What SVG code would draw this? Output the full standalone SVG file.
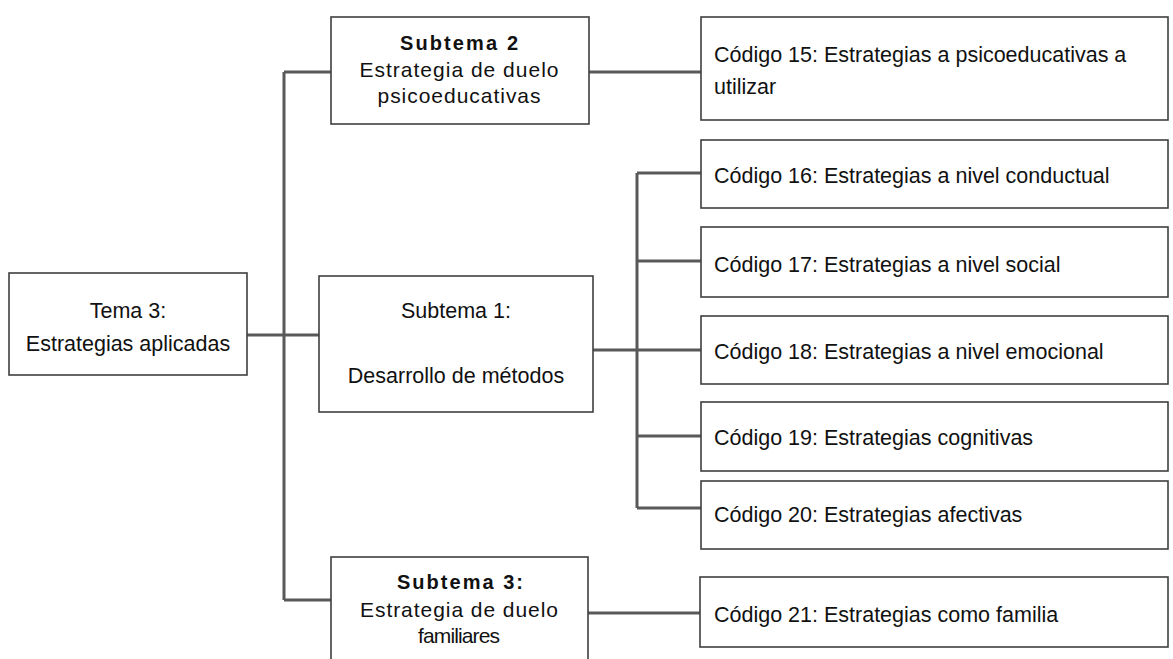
<svg xmlns="http://www.w3.org/2000/svg" width="1173" height="659" viewBox="0 0 1173 659">
<style>
.box{fill:#fff;stroke:#3f3f3f;stroke-width:1.6}
.con{fill:none;stroke:#595959;stroke-width:3}
.t{font-family:"Liberation Sans",Arial,sans-serif;font-size:21.5px;fill:#111}
.s{font-family:"Liberation Sans",Arial,sans-serif;font-size:21px;fill:#111}
.b{font-weight:bold;font-size:20px}
.m{text-anchor:middle}
</style>
<rect width="1173" height="659" fill="#fff"/>
<g id="connectors">
<path class="con" d="M284 72V600M284 72H331M284 600H331M247 335H319M589 72H701M593 350H701M637 173V508M637 173H701M637 261H701M637 436H701M637 508H701M588 613H700"/>
</g>
<g id="tema3">
<rect class="box" x="9" y="273" width="238" height="102"/>
<text class="t m" x="128" y="318">Tema 3:</text>
<text class="t m" x="128" y="351">Estrategias aplicadas</text>
</g>
<g id="subtema2">
<rect class="box" x="331" y="17" width="258" height="107"/>
<text class="s b m" x="459" y="50" textLength="118">Subtema 2</text>
<text class="s m" x="459" y="77" textLength="199">Estrategia de duelo</text>
<text class="s m" x="459" y="103" textLength="163">psicoeducativas</text>
</g>
<g id="subtema1">
<rect class="box" x="319" y="276" width="274" height="136"/>
<text class="t m" x="456" y="318">Subtema 1:</text>
<text class="t m" x="456" y="383">Desarrollo de métodos</text>
</g>
<g id="subtema3">
<rect class="box" x="331" y="557" width="257" height="110"/>
<text class="s b m" x="460" y="589" textLength="126">Subtema 3:</text>
<text class="s m" x="459" y="617" textLength="198">Estrategia de duelo</text>
<text class="s m" x="459" y="643" textLength="82">familiares</text>
</g>
<g id="codigo15">
<rect class="box" x="701" y="17" width="467" height="103"/>
<text class="t" x="714" y="62">Código 15: Estrategias a psicoeducativas a</text>
<text class="t" x="714" y="94">utilizar</text>
</g>
<g id="codigo16">
<rect class="box" x="701" y="140" width="467" height="68"/>
<text class="t" x="714" y="183">Código 16: Estrategias a nivel conductual</text>
</g>
<g id="codigo17">
<rect class="box" x="701" y="227" width="467" height="70"/>
<text class="t" x="714" y="272">Código 17: Estrategias a nivel social</text>
</g>
<g id="codigo18">
<rect class="box" x="701" y="316" width="467" height="68"/>
<text class="t" x="714" y="359">Código 18: Estrategias a nivel emocional</text>
</g>
<g id="codigo19">
<rect class="box" x="701" y="402" width="467" height="69"/>
<text class="t" x="714" y="445">Código 19: Estrategias cognitivas</text>
</g>
<g id="codigo20">
<rect class="box" x="701" y="481" width="467" height="68"/>
<text class="t" x="714" y="522">Código 20: Estrategias afectivas</text>
</g>
<g id="codigo21">
<rect class="box" x="700" y="577" width="468" height="70"/>
<text class="t" x="714" y="622">Código 21: Estrategias como familia</text>
</g>
</svg>
